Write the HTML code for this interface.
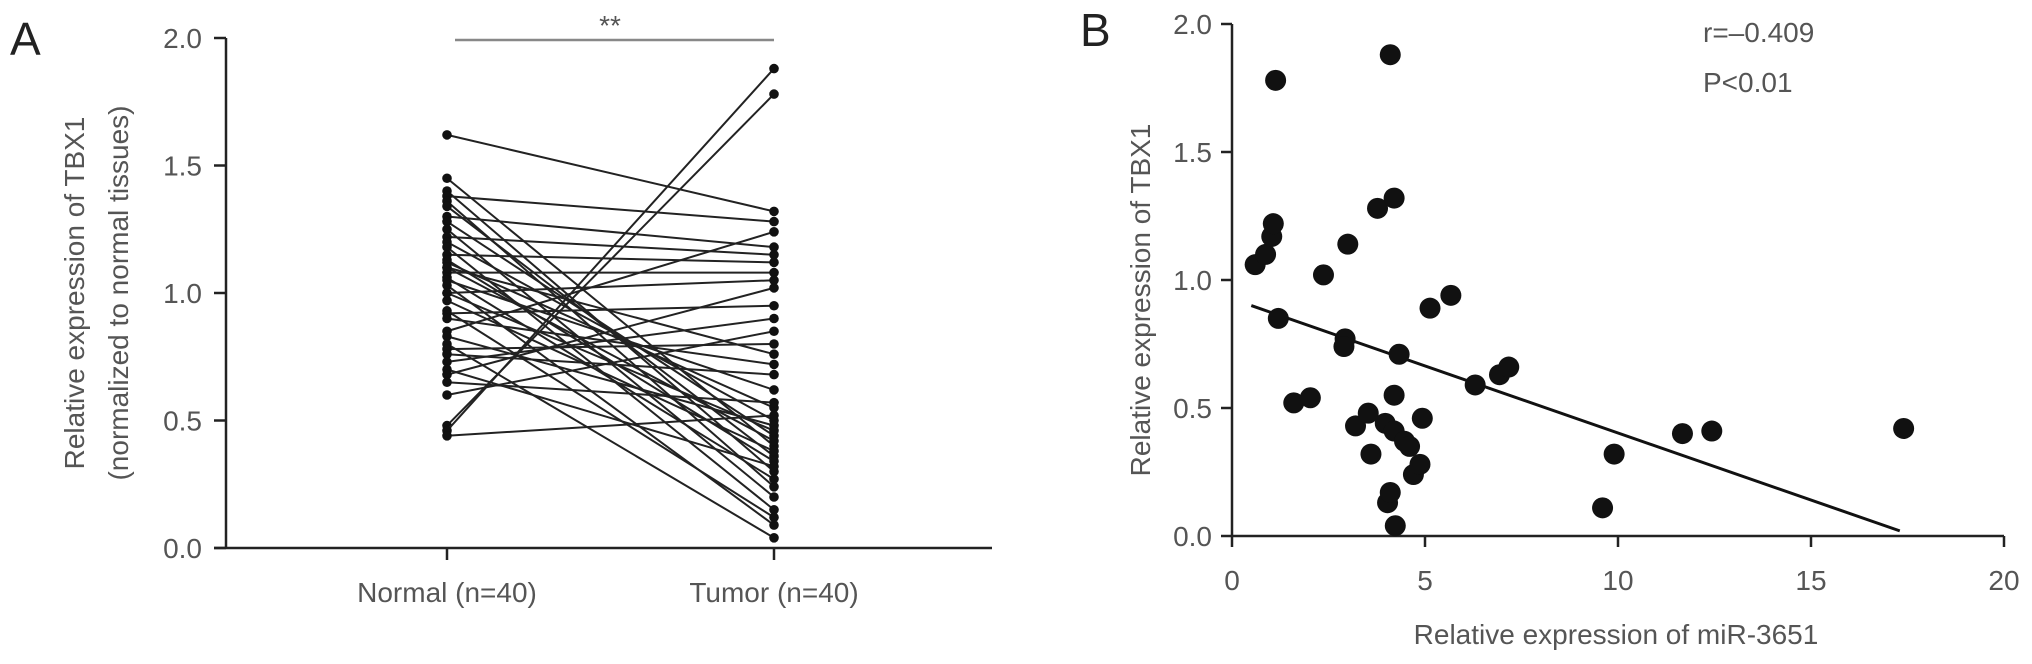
<!DOCTYPE html>
<html><head><meta charset="utf-8"><style>
body{margin:0;background:#fff}
svg{display:block;font-family:"Liberation Sans",sans-serif}
</style></head><body>
<svg id="c" width="2032" height="664"></svg>
<script>
const groupLabels=["Normal (n=40)","Tumor (n=40)"];
const normalVals=[1.62,1.45,1.40,1.38,1.36,1.34,1.30,1.28,1.25,1.22,1.20,1.18,1.15,1.13,1.12,1.10,1.08,1.06,1.05,1.03,1.00,0.97,0.93,0.92,0.90,0.85,0.83,0.80,0.78,0.76,0.73,0.70,0.68,0.65,0.60,0.48,0.46,0.44,1.10,1.00];
const tumorVals=[1.32,0.40,0.30,1.28,0.24,0.36,1.18,0.44,0.20,1.15,0.50,0.15,1.12,0.34,0.55,0.42,1.08,0.27,0.62,0.09,1.05,0.38,0.12,0.95,0.72,1.24,0.48,0.04,0.80,0.68,0.90,0.32,1.02,0.57,0.85,1.78,1.88,0.52,0.76,0.46];
const yTicksA=[0,0.5,1.0,1.5,2.0];
const mirX=[0.6,0.87,1.03,1.07,1.13,1.2,1.6,2.03,2.37,3.0,2.93,2.9,3.2,3.53,3.6,3.77,3.97,4.03,4.1,4.1,4.2,4.2,4.23,4.33,4.2,4.47,4.6,4.7,4.87,4.93,5.13,5.67,6.3,6.93,7.17,9.6,9.9,11.67,12.43,17.4];
const tbxY=[1.06,1.10,1.17,1.22,1.78,0.85,0.52,0.54,1.02,1.14,0.77,0.74,0.43,0.48,0.32,1.28,0.44,0.13,0.17,1.88,1.32,0.41,0.04,0.71,0.55,0.37,0.35,0.24,0.28,0.46,0.89,0.94,0.59,0.63,0.66,0.11,0.32,0.40,0.41,0.42];
const fitLine=[[0.5,0.90],[17.3,0.02]];
const xTicksB=[0,5,10,15,20];
const yTicksB=[0,0.5,1.0,1.5,2.0];

const svg=document.getElementById('c');const NS="http://www.w3.org/2000/svg";
function el(t,a,txt){const e=document.createElementNS(NS,t);for(const k in a)e.setAttribute(k,a[k]);if(txt!==undefined)e.textContent=txt;svg.appendChild(e);return e;}
const gray="#555", FS=28;
// Panel A
const yA=v=>548-v*255, xA=i=>i===0?447:774;
let e=el('text',{x:10,y:55,'font-size':46,fill:'#222'},'A');

e=el('line',{x1:226,y1:38,x2:226,y2:549,stroke:'#222','stroke-width':2.5});

e=el('line',{x1:214,y1:548,x2:992,y2:548,stroke:'#222','stroke-width':2.5});

yTicksA.forEach(v=>{
 e=el('line',{x1:214,y1:yA(v),x2:226,y2:yA(v),stroke:'#222','stroke-width':2.5});
 
 e=el('text',{x:202,y:yA(v)+10,'font-size':FS,fill:gray,'text-anchor':'end'},v.toFixed(1));
 
});
groupLabels.forEach((g,i)=>{
 e=el('line',{x1:xA(i),y1:548,x2:xA(i),y2:560,stroke:'#222','stroke-width':2.5});
 
 e=el('text',{x:xA(i),y:602,'font-size':FS,fill:gray,'text-anchor':'middle'},g);
 
});
e=el('text',{transform:'translate(84,293) rotate(-90)','font-size':FS,fill:gray,'text-anchor':'middle'},'Relative expression of TBX1');

e=el('text',{transform:'translate(128,293) rotate(-90)','font-size':FS,fill:gray,'text-anchor':'middle'},'(normalized to normal tissues)');

e=el('line',{x1:455,y1:40,x2:774,y2:40,stroke:'#888','stroke-width':2.5});

e=el('text',{x:610,y:35,'font-size':FS,fill:gray,'text-anchor':'middle'},'**');

normalVals.forEach((n,i)=>{
 const t=tumorVals[i];
 e=el('line',{x1:xA(0),y1:yA(n),x2:xA(1),y2:yA(t),stroke:'#222','stroke-width':2});
 
 e=el('circle',{cx:xA(0),cy:yA(n),r:4.8,fill:'#111'});
 
 e=el('circle',{cx:xA(1),cy:yA(t),r:4.8,fill:'#111'});
 
});
// Panel B
const xB=v=>1232+v*38.6, yB=v=>536-v*256;
e=el('text',{x:1080,y:46,'font-size':46,fill:'#222'},'B');

e=el('line',{x1:1232,y1:24,x2:1232,y2:537,stroke:'#222','stroke-width':2.5});

e=el('line',{x1:1231,y1:536,x2:2004,y2:536,stroke:'#222','stroke-width':2.5});

yTicksB.forEach(v=>{
 e=el('line',{x1:1221,y1:yB(v),x2:1232,y2:yB(v),stroke:'#222','stroke-width':2.5});
 
 e=el('text',{x:1212,y:yB(v)+10,'font-size':FS,fill:gray,'text-anchor':'end'},v.toFixed(1));
 
});
xTicksB.forEach(v=>{
 e=el('line',{x1:xB(v),y1:536,x2:xB(v),y2:547,stroke:'#222','stroke-width':2.5});
 
 e=el('text',{x:xB(v),y:590,'font-size':FS,fill:gray,'text-anchor':'middle'},String(v));
 
});
e=el('text',{x:1616,y:644,'font-size':FS,fill:gray,'text-anchor':'middle'},'Relative expression of miR-3651');

e=el('text',{transform:'translate(1150,300) rotate(-90)','font-size':FS,fill:gray,'text-anchor':'middle'},'Relative expression of TBX1');

e=el('text',{x:1703,y:42,'font-size':FS,fill:gray},'r=\u20130.409');

e=el('text',{x:1703,y:92,'font-size':FS,fill:gray},'P<0.01');

e=el('line',{x1:xB(fitLine[0][0]),y1:yB(fitLine[0][1]),x2:xB(fitLine[1][0]),y2:yB(fitLine[1][1]),stroke:'#111','stroke-width':3});

mirX.forEach((x,i)=>{
 e=el('circle',{cx:xB(x),cy:yB(tbxY[i]),r:10.5,fill:'#111'});
 
});
</script>
</body></html>
